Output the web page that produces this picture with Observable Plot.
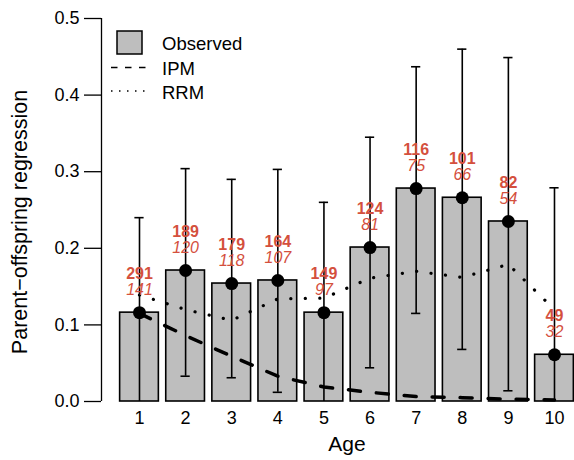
<!DOCTYPE html>
<html><head><meta charset="utf-8">
<script src="https://cdn.jsdelivr.net/npm/d3@7"></script>
<script src="https://cdn.jsdelivr.net/npm/@observablehq/plot@0.6"></script>
<style>body{margin:0;background:#fff;}</style>
</head><body><div id="chart"></div>
<script>
const ages = [1, 2, 3, 4, 5, 6, 7, 8, 9, 10];
const observed = [0.116, 0.171, 0.154, 0.158, 0.116, 0.201, 0.278, 0.266, 0.235, 0.061];
const ciLower = [0, 0.033, 0.031, 0.012, 0, 0.044, 0.115, 0.068, 0.014, 0];
const ciUpper = [0.240, 0.304, 0.290, 0.303, 0.260, 0.345, 0.437, 0.460, 0.449, 0.279];
const ipm = [0.115, 0.086, 0.059, 0.033, 0.019, 0.012, 0.0065, 0.005, 0.003, 0.002];
const rrm = [0.139, 0.120, 0.106, 0.134, 0.135, 0.161, 0.170, 0.162, 0.179, 0.120];
const nParents = [291, 189, 179, 164, 149, 124, 116, 101, 82, 49];
const nFamilies = [141, 120, 118, 107, 97, 81, 75, 66, 54, 32];
const yTicks = [0, 0.1, 0.2, 0.3, 0.4, 0.5];
const legendLabels = ["Observed", "IPM", "RRM"];

const data = ages.map((age, i) => ({
  age, obs: observed[i], lo: ciLower[i], hi: ciUpper[i],
  ipm: ipm[i], rrm: rrm[i], n: nParents[i], m: nFamilies[i]
}));

const xDomain = [0.176, 10.434];
const font = "'Liberation Sans', Arial, Helvetica, sans-serif";
const red = "#d4503d";
const half = 0.42, cap = 0.1;

const plot = Plot.plot({
  width: 574, height: 460,
  marginLeft: 101, marginRight: 0, marginTop: 18, marginBottom: 59,
  style: {fontFamily: font, background: "white", color: "black"},
  x: {type: "linear", domain: xDomain},
  y: {domain: [0, 0.5]},
  marks: [
    Plot.rect(data, {x1: d => d.age - half, x2: d => d.age + half, y1: 0, y2: "obs",
      fill: "#bebebe", stroke: "black", strokeWidth: 1.6}),
    Plot.line(data, {x: "age", y: "ipm", stroke: "black", strokeWidth: 3.5, strokeDasharray: "12,16"}),
    Plot.line(data, {x: "age", y: "rrm", stroke: "black", strokeWidth: 3.2, strokeDasharray: "0.1,14.4",
      strokeLinecap: "round"}),
    Plot.ruleX(data, {x: "age", y1: "lo", y2: "hi", stroke: "black", strokeWidth: 1.6}),
    Plot.ruleY(data, {y: "hi", x1: d => d.age - cap, x2: d => d.age + cap, stroke: "black", strokeWidth: 1.6}),
    Plot.ruleY(data.filter(d => d.lo > 0), {y: "lo", x1: d => d.age - cap, x2: d => d.age + cap, stroke: "black", strokeWidth: 1.6}),
    Plot.dot(data, {x: "age", y: "obs", r: 6.5, fill: "black"}),
    Plot.text(data, {x: "age", y: "obs", text: "n", dy: -39, fill: red, fontWeight: "bold", fontSize: 16}),
    Plot.text(data, {x: "age", y: "obs", text: "m", dy: -23, fill: red, fontStyle: "italic", fontSize: 16}),
    Plot.ruleX([xDomain[0]], {y1: 0, y2: 0.5, stroke: "black", strokeWidth: 1.3}),
    Plot.axisY({ticks: yTicks, tickFormat: d3.format(".1f"), tickSize: 17, tickPadding: 5,
      fontSize: 18, label: null, strokeWidth: 1.3}),
    Plot.axisX({ticks: ages, tickSize: 0, tickPadding: 10, fontSize: 18, label: null, tickFormat: d => String(d)}),
    Plot.text(["Age"], {text: d => d, frameAnchor: "bottom", textAnchor: "middle", lineAnchor: "middle",
      dx: 9, dy: 43, fontSize: 21}),
    Plot.text(["Parent\u2212offspring regression"], {text: d => d, frameAnchor: "left", textAnchor: "middle",
      lineAnchor: "middle", dx: -81, dy: 12, rotate: -90, fontSize: 21.5})
  ]
});

// legend inside the plot area
const svg = d3.select(plot);
const lg = svg.append("g");
lg.append("rect").attr("x", 117).attr("y", 31).attr("width", 25).attr("height", 23)
  .attr("fill", "#bebebe").attr("stroke", "black").attr("stroke-width", 1.5);
lg.append("line").attr("x1", 111).attr("x2", 147).attr("y1", 67.5).attr("y2", 67.5)
  .attr("stroke", "black").attr("stroke-width", 1.5).attr("stroke-dasharray", "6.5,7.5");
lg.append("line").attr("x1", 111).attr("x2", 145).attr("y1", 91).attr("y2", 91)
  .attr("stroke", "black").attr("stroke-width", 1.5).attr("stroke-dasharray", "1.5,6.5");
legendLabels.forEach((t, i) => {
  lg.append("text").attr("x", 162).attr("y", [50, 75, 99][i])
    .style("font-family", font).style("font-size", "18.5px").style("text-anchor", "start")
    .style("fill", "black").text(t);
});

document.getElementById("chart").appendChild(plot);
</script>
</body></html>
